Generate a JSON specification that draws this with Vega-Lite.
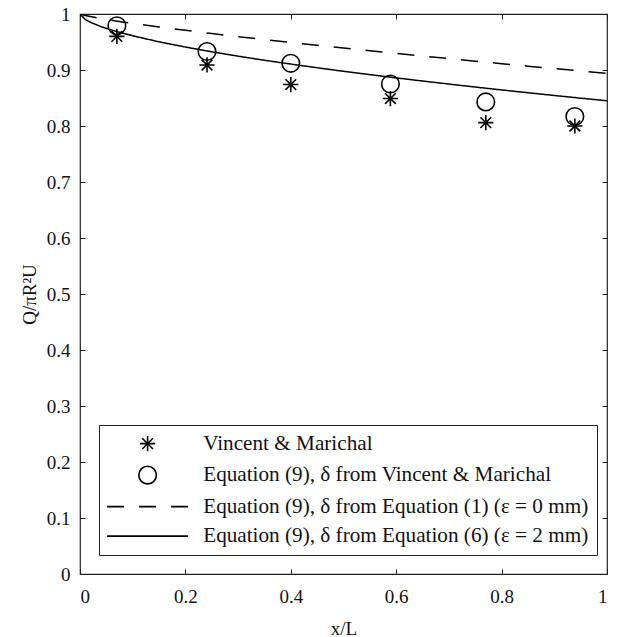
{
  "$schema": "https://vega.github.io/schema/vega-lite/v6.json",
  "width": 527,
  "height": 560,
  "autosize": {"type": "none"},
  "padding": {"left": 80, "top": 14, "right": 10, "bottom": 63},
  "background": "white",
  "config": {
    "font": "Liberation Serif",
    "view": {"stroke": "#222", "strokeWidth": 1.2}
  },
  "datasets": {
    "d": [
      {"series": "Vincent & Marichal", "x": 0.07, "y": 0.960},
      {"series": "Vincent & Marichal", "x": 0.241, "y": 0.909},
      {"series": "Vincent & Marichal", "x": 0.400, "y": 0.874},
      {"series": "Vincent & Marichal", "x": 0.589, "y": 0.849},
      {"series": "Vincent & Marichal", "x": 0.770, "y": 0.806},
      {"series": "Vincent & Marichal", "x": 0.939, "y": 0.800},
      {"series": "Equation (9), δ from Vincent & Marichal", "x": 0.07, "y": 0.979},
      {"series": "Equation (9), δ from Vincent & Marichal", "x": 0.241, "y": 0.933},
      {"series": "Equation (9), δ from Vincent & Marichal", "x": 0.400, "y": 0.912},
      {"series": "Equation (9), δ from Vincent & Marichal", "x": 0.589, "y": 0.875},
      {"series": "Equation (9), δ from Vincent & Marichal", "x": 0.770, "y": 0.843},
      {"series": "Equation (9), δ from Vincent & Marichal", "x": 0.939, "y": 0.817}
    ],
    "lines": [
      {"series": "dashed", "x": 0, "y": 1},
      {"series": "dashed", "x": 0.01, "y": 0.9973},
      {"series": "dashed", "x": 0.02, "y": 0.9954},
      {"series": "dashed", "x": 0.04, "y": 0.9919},
      {"series": "dashed", "x": 0.06, "y": 0.9888},
      {"series": "dashed", "x": 0.08, "y": 0.9859},
      {"series": "dashed", "x": 0.1, "y": 0.9832},
      {"series": "dashed", "x": 0.15, "y": 0.9768},
      {"series": "dashed", "x": 0.2, "y": 0.9708},
      {"series": "dashed", "x": 0.25, "y": 0.9650},
      {"series": "dashed", "x": 0.3, "y": 0.9595},
      {"series": "dashed", "x": 0.35, "y": 0.9542},
      {"series": "dashed", "x": 0.4, "y": 0.9491},
      {"series": "dashed", "x": 0.45, "y": 0.9441},
      {"series": "dashed", "x": 0.5, "y": 0.9391},
      {"series": "dashed", "x": 0.55, "y": 0.9343},
      {"series": "dashed", "x": 0.6, "y": 0.9296},
      {"series": "dashed", "x": 0.65, "y": 0.9249},
      {"series": "dashed", "x": 0.7, "y": 0.9203},
      {"series": "dashed", "x": 0.75, "y": 0.9158},
      {"series": "dashed", "x": 0.8, "y": 0.9113},
      {"series": "dashed", "x": 0.85, "y": 0.9069},
      {"series": "dashed", "x": 0.9, "y": 0.9026},
      {"series": "dashed", "x": 0.95, "y": 0.8983},
      {"series": "dashed", "x": 1.0, "y": 0.8940},
      {"series": "solid", "x": 0, "y": 1},
      {"series": "solid", "x": 0.01, "y": 0.9902},
      {"series": "solid", "x": 0.02, "y": 0.9852},
      {"series": "solid", "x": 0.04, "y": 0.9775},
      {"series": "solid", "x": 0.06, "y": 0.9713},
      {"series": "solid", "x": 0.08, "y": 0.9659},
      {"series": "solid", "x": 0.1, "y": 0.9611},
      {"series": "solid", "x": 0.15, "y": 0.9503},
      {"series": "solid", "x": 0.2, "y": 0.9410},
      {"series": "solid", "x": 0.25, "y": 0.9325},
      {"series": "solid", "x": 0.3, "y": 0.9247},
      {"series": "solid", "x": 0.35, "y": 0.9174},
      {"series": "solid", "x": 0.4, "y": 0.9106},
      {"series": "solid", "x": 0.45, "y": 0.9040},
      {"series": "solid", "x": 0.5, "y": 0.8977},
      {"series": "solid", "x": 0.55, "y": 0.8917},
      {"series": "solid", "x": 0.6, "y": 0.8859},
      {"series": "solid", "x": 0.65, "y": 0.8803},
      {"series": "solid", "x": 0.7, "y": 0.8749},
      {"series": "solid", "x": 0.75, "y": 0.8696},
      {"series": "solid", "x": 0.8, "y": 0.8644},
      {"series": "solid", "x": 0.85, "y": 0.8594},
      {"series": "solid", "x": 0.9, "y": 0.8545},
      {"series": "solid", "x": 0.95, "y": 0.8497},
      {"series": "solid", "x": 1.0, "y": 0.8450}
    ]
  },
  "resolve": {"axis": {"x": "independent", "y": "independent"}},
  "layer": [
    {
      "data": {"name": "lines"},
      "mark": {"type": "line", "color": "black", "strokeWidth": 1.5, "clip": true},
      "encoding": {
        "x": {"field": "x", "type": "quantitative", "scale": {"domain": [0, 1], "nice": false},
          "axis": {"orient": "bottom", "values": [0, 0.2, 0.4, 0.6, 0.8, 1], "format": "~g", "title": "x/L", "titlePadding": 13,
            "domain": false, "grid": false, "tickColor": "#222", "tickSize": -5, "tickWidth": 1,
            "labelFont": "Liberation Serif", "labelFontSize": 19, "labelColor": "#111", "labelPadding": 18,
            "titleFont": "Liberation Serif", "titleFontSize": 19, "titleFontWeight": "normal", "titleColor": "#111"}},
        "y": {"field": "y", "type": "quantitative", "scale": {"domain": [0, 1], "nice": false, "zero": false},
          "axis": {"orient": "left", "values": [0, 0.1, 0.2, 0.3, 0.4, 0.5, 0.6, 0.7, 0.8, 0.9, 1], "format": "~g", "title": "Q/πR²U", "titlePadding": 7,
            "domain": false, "grid": false, "tickColor": "#222", "tickSize": -5, "tickWidth": 1,
            "labelFont": "Liberation Serif", "labelFontSize": 19, "labelColor": "#111", "labelPadding": 15,
            "titleFont": "Liberation Serif", "titleFontSize": 19, "titleFontWeight": "normal", "titleColor": "#111"}},
        "strokeDash": {"field": "series", "type": "nominal",
          "scale": {"domain": ["dashed", "solid"], "range": [[17, 15], [1, 0]]}, "legend": null}
      }
    },
    {
      "data": {"name": "d"},
      "mark": {"type": "point", "filled": false, "stroke": "black", "strokeWidth": 1.6, "size": 256, "opacity": 1},
      "encoding": {
        "x": {"field": "x", "type": "quantitative",
          "axis": {"orient": "top", "values": [0, 0.2, 0.4, 0.6, 0.8, 1], "labels": false, "title": null,
            "domain": false, "grid": false, "tickColor": "#222", "tickSize": -5, "tickWidth": 1}},
        "y": {"field": "y", "type": "quantitative",
          "axis": {"orient": "right", "values": [0, 0.1, 0.2, 0.3, 0.4, 0.5, 0.6, 0.7, 0.8, 0.9, 1], "labels": false, "title": null,
            "domain": false, "grid": false, "tickColor": "#222", "tickSize": -5, "tickWidth": 1}},
        "shape": {"field": "series", "type": "nominal",
          "scale": {
            "domain": ["Vincent & Marichal", "Equation (9), δ from Vincent & Marichal", "Equation (9), δ from Equation (1) (ε = 0 mm)", "Equation (9), δ from Equation (6) (ε = 2 mm)"],
            "range": [
              "M0,-0.95V0.95M-0.95,0H0.95M-0.67,-0.67L0.67,0.67M-0.67,0.67L0.67,-0.67",
              "M1.1,0A1.1,1.1 0 1,1 -1.1,0A1.1,1.1 0 1,1 1.1,0Z",
              "M-5.06,0H-2.94M-1.06,0H1.06M2.94,0H5.06",
              "M-5.06,0H5.06"
            ]
          },
          "legend": {"title": null, "orient": "none", "legendX": 19, "legendY": 411,
            "labelFont": "Liberation Serif", "labelFontSize": 21.2, "labelColor": "#111", "labelLimit": 1000,
            "strokeColor": "#222", "fillColor": "white", "padding": 8, "symbolSize": 256, "symbolStrokeWidth": 1.6,
            "symbolStrokeColor": "black", "symbolOffset": 30, "labelOffset": 45, "rowPadding": 7.5}
        }
      }
    }
  ]
}
